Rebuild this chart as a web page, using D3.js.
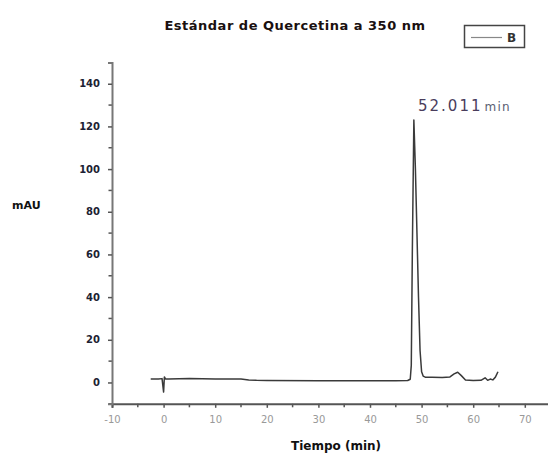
<!DOCTYPE html>
<html><head><meta charset="utf-8">
<script src="https://cdn.jsdelivr.net/npm/d3@7"></script>
<style>body{margin:0;background:#fff}svg{display:block}</style>
</head><body>
<svg id="c" width="548" height="454"></svg>
<script>
const timeMin = [-2.5,-1,-0.3,0,0.15,0.4,1,5,10,15,16.5,18,20,30,40,45,47.3,47.8,48.0,48.2,48.5,48.8,49.1,49.4,49.7,50.0,50.3,50.7,52,54,55.5,56.3,57.0,57.7,58.5,60,61.5,62.3,62.8,63.3,63.8,64.3,64.8];
const mAU     = [1.6,1.6,1.8,-4.5,2.6,1.6,1.6,1.8,1.6,1.6,1.2,1.0,0.9,0.8,0.8,0.8,0.9,1.5,8,60,123,100,70,40,15,5,3,2.5,2.4,2.3,2.6,4.0,4.8,3.2,1.2,0.9,1.0,2.2,1.0,1.6,1.2,2.5,5.0];
const xTicks = [-10,0,10,20,30,40,50,60,70];
const yTicks = [0,20,40,60,80,100,120,140];
const title = "Estándar de Quercetina a 350 nm";
const xLabel = "Tiempo (min)";
const yLabel = "mAU";
const peakLabel = "52.011";
const legendName = "B";

const svg = d3.select("#c");
const x = d3.scaleLinear().domain([-10,75]).range([112,550.6]);
const y = d3.scaleLinear().domain([-10,150]).range([403.8,62.4]);
const font = "'DejaVu Sans', Verdana, sans-serif";

// minor ticks
svg.append("g").selectAll("line").data(d3.range(-5,75,10)).join("line")
  .attr("x1",d=>x(d)).attr("x2",d=>x(d)).attr("y1",y(-10)).attr("y2",y(-10)+3.5)
  .attr("stroke","#555").attr("stroke-width",1.5);
svg.append("g").selectAll("line").data(d3.range(-10,150,10).filter(d=>d%20!==0)).join("line")
  .attr("x1",x(-10)).attr("x2",x(-10)-3.5).attr("y1",d=>y(d)).attr("y2",d=>y(d))
  .attr("stroke","#555").attr("stroke-width",1.5);

const xa = svg.append("g").attr("transform",`translate(0,${y(-10)})`)
  .call(d3.axisBottom(x).tickValues(xTicks).tickSize(4).tickPadding(8).tickFormat(d=>String(d)));
xa.select(".domain").attr("stroke","#555").attr("stroke-width",2);
xa.selectAll(".tick line").attr("stroke","#555").attr("stroke-width",1.5);
xa.selectAll("text").attr("font-family",font).attr("font-size",10).attr("fill","#999");

const ya = svg.append("g").attr("transform",`translate(${x(-10)},0)`)
  .call(d3.axisLeft(y).tickValues(yTicks).tickSize(4).tickPadding(8));
ya.select(".domain").attr("stroke","#777").attr("stroke-width",2);
ya.selectAll(".tick line").attr("stroke","#555").attr("stroke-width",1.5);
ya.selectAll("text").attr("font-family",font).attr("font-size",10).attr("font-weight","bold").attr("fill","#1c2233");

const line = d3.line().x((d,i)=>x(timeMin[i])).y(d=>y(d));
svg.append("path").attr("d",line(mAU)).attr("fill","none").attr("stroke","#3a3a3a").attr("stroke-width",1.5).attr("stroke-linejoin","round");

svg.append("text").attr("x",295).attr("y",30).attr("text-anchor","middle").attr("letter-spacing",0.5)
  .attr("font-family",font).attr("font-size",13).attr("font-weight","bold").attr("fill","#1a1010").text(title);
svg.append("text").attr("x",336).attr("y",450).attr("text-anchor","middle")
  .attr("font-family",font).attr("font-size",12).attr("font-weight","bold").attr("fill","#111").text(xLabel);
svg.append("text").attr("x",12).attr("y",209)
  .attr("font-family",font).attr("font-size",11).attr("font-weight","bold").attr("fill","#111").text(yLabel);

const pl = svg.append("text").attr("x",418).attr("y",110.5).attr("font-family",font);
pl.append("tspan").attr("font-size",15).attr("letter-spacing",2).attr("fill","#4a3d5c").text(peakLabel);
pl.append("tspan").attr("font-size",12).attr("letter-spacing",1.2).attr("fill","#5a6072").attr("dx",2).text("min");

const lg = svg.append("g");
lg.append("rect").attr("x",464.5).attr("y",25.5).attr("width",60).attr("height",22).attr("fill","#fff").attr("stroke","#444").attr("stroke-width",1.5);
lg.append("line").attr("x1",471).attr("x2",502).attr("y1",37.5).attr("y2",37.5).attr("stroke","#888").attr("stroke-width",1.2);
lg.append("text").attr("x",507).attr("y",42).attr("font-family",font).attr("font-size",12).attr("font-weight","bold").attr("fill","#333").text(legendName);
</script>
</body></html>
